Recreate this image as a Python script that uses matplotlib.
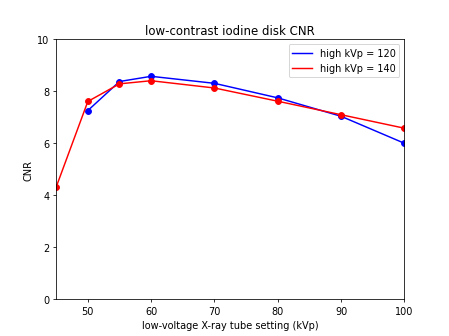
import matplotlib
matplotlib.use("Agg")
import matplotlib.pyplot as plt

# low-voltage settings (kVp)
kvp_120 = [50, 55, 60, 70, 80, 90, 100]
cnr_120 = [7.26, 8.38, 8.58, 8.31, 7.75, 7.04, 6.00]

kvp_140 = [45, 50, 55, 60, 70, 80, 90, 100]
cnr_140 = [4.31, 7.61, 8.29, 8.41, 8.13, 7.62, 7.10, 6.58]

fig, ax = plt.subplots(figsize=(6.4, 4.8), dpi=70.2)

ax.plot(kvp_120, cnr_120, 'b-', label='high kVp = 120')
ax.plot(kvp_120, cnr_120, 'bo')
ax.plot(kvp_140, cnr_140, 'r-', label='high kVp = 140')
ax.plot(kvp_140, cnr_140, 'ro')

ax.set_xlim(45, 100)
ax.set_ylim(0, 10)
ax.set_xlabel('low-voltage X-ray tube setting (kVp)')
ax.set_ylabel('CNR')
ax.set_title('low-contrast iodine disk CNR')
ax.legend(loc='upper right')

fig.savefig('out.png', dpi=70.2)
